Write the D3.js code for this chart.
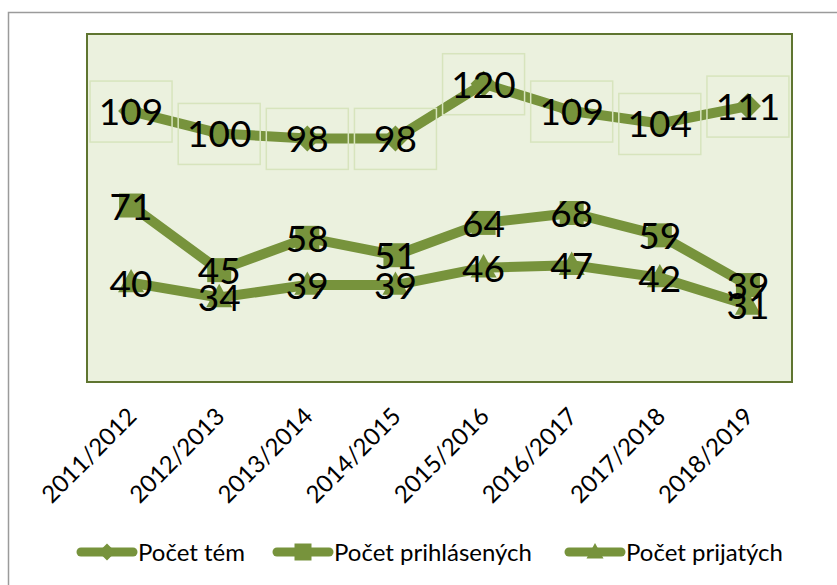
<!DOCTYPE html>
<html>
<head>
<meta charset="utf-8">
<script src="https://cdn.jsdelivr.net/npm/d3@7"></script>
<style>
  body { margin: 0; background: #fff; }
  text { font-family: Lato, "Open Sans", sans-serif; }
</style>
</head>
<body>
<div id="chart"></div>
<script>
// data
const categories = ["2011/2012", "2012/2013", "2013/2014", "2014/2015", "2015/2016", "2016/2017", "2017/2018", "2018/2019"];
const pocetTem = [109, 100, 98, 98, 120, 109, 104, 111];
const pocetPrihlasenych = [71, 45, 58, 51, 64, 68, 59, 39];
const pocetPrijatych = [40, 34, 39, 39, 46, 47, 42, 31];
const seriesNames = ["Počet tém", "Počet prihlásených", "Počet prijatých"];

const W = 837, H = 585;
const plot = {left: 87, top: 34, right: 792, bottom: 382};
const green = "#77933c";

const series = [
    {name: seriesNames[0], values: pocetTem, marker: "diamond", boxed: true},
    {name: seriesNames[1], values: pocetPrihlasenych, marker: "square", boxed: false},
    {name: seriesNames[2], values: pocetPrijatych, marker: "triangle", boxed: false}
];

const svg = d3.select('#chart').append('svg')
    .attr('width', W).attr('height', H);

// outer chart border (only top/left visible)
svg.append('rect')
    .attr('x', 8.5).attr('y', 12.5)
    .attr('width', 900).attr('height', 700)
    .attr('fill', 'none')
    .attr('stroke', '#9b9b9b')
    .attr('stroke-width', 1.5);

// plot area
svg.append('rect')
    .attr('x', plot.left).attr('y', plot.top)
    .attr('width', plot.right - plot.left).attr('height', plot.bottom - plot.top)
    .attr('fill', '#ebf1de')
    .attr('stroke', '#5f7530')
    .attr('stroke-width', 2);

var x = d3.scaleBand().domain(categories).range([plot.left, plot.right]);
var y = d3.scaleLinear().domain([0, 140]).range([plot.bottom, plot.top]);
const cx = (c) => x(c) + x.bandwidth() / 2;

function markerPath(type, s) {
    if (type === "diamond") return `M0,${-s}L${s},0L0,${s}L${-s},0Z`;
    if (type === "square") return `M${-s},${-s}H${s}V${s}H${-s}Z`;
    return `M0,${-s * 1.05}L${s},${s * 0.75}L${-s},${s * 0.75}Z`;
}

var line = d3.line()
    .x((d, i) => cx(categories[i]))
    .y((d) => y(d));

var gSeries = svg.append('g');
series.forEach((s) => {
    gSeries.append('path')
        .datum(s.values)
        .attr('d', line)
        .attr('fill', 'none')
        .attr('stroke', green)
        .attr('stroke-width', 10)
        .attr('stroke-linejoin', 'round');
    gSeries.selectAll('.m-' + s.marker)
        .data(s.values)
        .enter()
        .append('path')
        .attr('class', 'm-' + s.marker)
        .attr('transform', (d, i) => `translate(${cx(categories[i])},${y(d)})`)
        .attr('d', markerPath(s.marker, s.marker === "square" ? 12 : 13))
        .attr('fill', green);
});

// data labels
var gLabels = svg.append('g');
series.forEach((s) => {
    if (s.boxed) {
        gLabels.selectAll('.box')
            .data(s.values)
            .enter()
            .append('rect')
            .attr('x', (d, i) => cx(categories[i]) - 41)
            .attr('y', (d) => y(d) - 30)
            .attr('width', 82).attr('height', 61)
            .attr('fill', 'none')
            .attr('stroke', '#d7e4bd')
            .attr('stroke-width', 1.5);
    }
    gLabels.selectAll(null)
        .data(s.values)
        .enter()
        .append('text')
        .attr('x', (d, i) => cx(categories[i]))
        .attr('y', (d) => y(d) + 14)
        .attr('text-anchor', 'middle')
        .attr('font-size', 37)
        .attr('fill', '#000')
        .text((d) => d);
});

// category axis labels
svg.append('g').selectAll('text')
    .data(categories)
    .enter()
    .append('text')
    .attr('transform', (d) => `translate(${cx(d) + 7},${418}) rotate(-45)`)
    .attr('text-anchor', 'end')
    .attr('font-size', 24)
    .attr('fill', '#000')
    .text((d) => d);

// legend
const legendX = [77, 273, 565];
var legend = svg.append('g');
series.forEach((s, i) => {
    var g = legend.append('g').attr('transform', `translate(${legendX[i]},552)`);
    g.append('line')
        .attr('x1', 4).attr('x2', 56)
        .attr('y1', 0).attr('y2', 0)
        .attr('stroke', green)
        .attr('stroke-width', 9)
        .attr('stroke-linecap', 'round');
    g.append('path')
        .attr('transform', 'translate(30,0)')
        .attr('d', markerPath(s.marker, 8.5))
        .attr('fill', green);
    g.append('text')
        .attr('x', 61).attr('y', 9)
        .attr('font-size', 24)
        .attr('fill', '#000')
        .text(s.name);
});
</script>
</body>
</html>
